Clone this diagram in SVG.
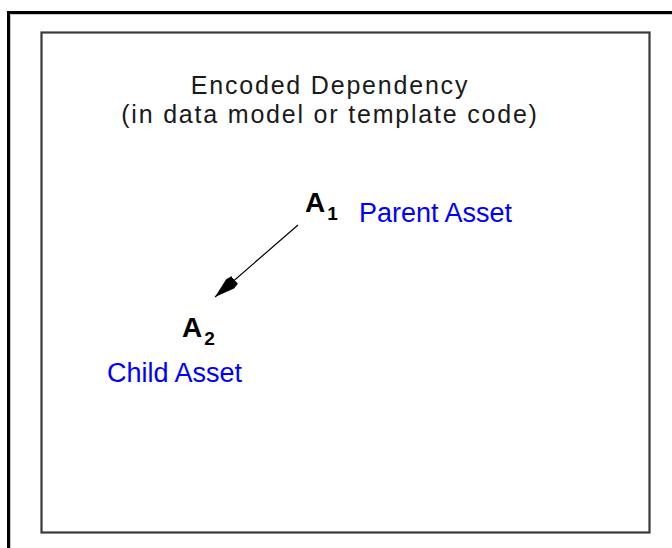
<svg xmlns="http://www.w3.org/2000/svg" width="672" height="548" viewBox="0 0 672 548">
  <style>
    .title { font-family: "Liberation Sans", Arial, sans-serif; font-size: 25px; letter-spacing: 1.8px; fill: #1a1a1a; text-anchor: middle; }
    .sym { font-family: "Liberation Sans", Arial, sans-serif; font-weight: bold; fill: #000; }
    .lbl { font-family: "Liberation Sans", Arial, sans-serif; font-size: 27px; fill: #0000ff; }
    .conn { stroke: #000; stroke-width: 1.2; fill: none; }
  </style>
  <defs>
    <marker id="arrow" markerUnits="userSpaceOnUse" markerWidth="30" markerHeight="16" refX="26" refY="7" orient="auto">
      <path d="M0,2 L6,1 L26,7 L6,13 L0,12 Z" fill="#000"/>
    </marker>
  </defs>
  <rect x="0" y="0" width="672" height="548" fill="#fff"/>
  <g id="frame">
    <path d="M8.5,548 V12.5 H672" stroke="#000" stroke-width="3" fill="none"/>
    <path d="M10.5,548 V14.5 H672" stroke="#c8c8c8" stroke-width="1" fill="none"/>
    <rect x="41.5" y="32.5" width="608" height="500" fill="none" stroke="#3a3a3a" stroke-width="2.2"/>
  </g>
  <g id="title">
    <text class="title" x="330" y="94">Encoded Dependency</text>
    <text class="title" x="330" y="123">(in data model or template code)</text>
  </g>
  <g id="parent">
    <text class="sym" x="305" y="212" font-size="28">A<tspan font-size="19" dx="2" dy="8">1</tspan></text>
    <text class="lbl" x="359" y="222">Parent Asset</text>
  </g>
  <g id="child">
    <text class="sym" x="182" y="337" font-size="28">A<tspan font-size="19" dx="2" dy="8">2</tspan></text>
    <text class="lbl" x="107" y="382">Child Asset</text>
  </g>
  <g id="connectors">
    <line class="conn" x1="298" y1="225" x2="215" y2="297" marker-end="url(#arrow)"/>
  </g>
</svg>
